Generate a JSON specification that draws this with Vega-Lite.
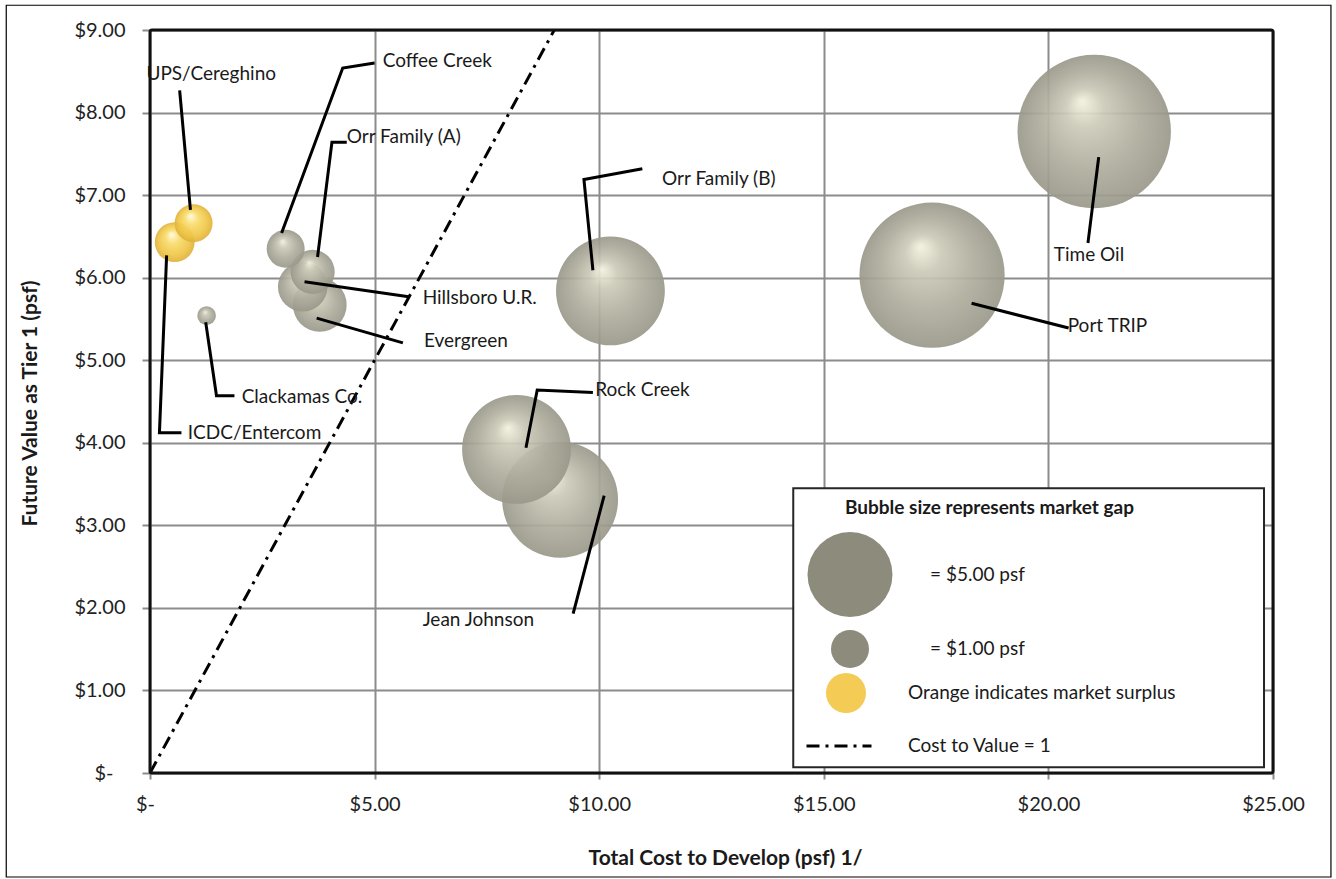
{
  "$schema": "https://vega.github.io/schema/vega-lite/v6.json",
  "width": 1123,
  "height": 743,
  "autosize": {"type": "none"},
  "padding": {"left": 150, "top": 30, "right": 63, "bottom": 106},
  "background": "white",
  "datasets": {
    "projects": [
      {"name": "Time Oil", "cost": 21.02, "value": 7.77, "gap": 16.3, "status": "gap"},
      {"name": "Port TRIP", "cost": 17.41, "value": 6.03, "gap": 14.6, "status": "gap"},
      {"name": "Jean Johnson", "cost": 9.13, "value": 3.31, "gap": 9.3, "status": "gap"},
      {"name": "Orr Family (B)", "cost": 10.25, "value": 5.84, "gap": 8.2, "status": "gap"},
      {"name": "Rock Creek", "cost": 8.16, "value": 3.92, "gap": 8.2, "status": "gap"},
      {"name": "Evergreen", "cost": 3.78, "value": 5.67, "gap": 2.0, "status": "gap"},
      {"name": "Hillsboro U.R.", "cost": 3.40, "value": 5.89, "gap": 1.7, "status": "gap"},
      {"name": "Orr Family (A)", "cost": 3.62, "value": 6.07, "gap": 1.35, "status": "gap"},
      {"name": "Coffee Creek", "cost": 3.02, "value": 6.35, "gap": 1.0, "status": "gap"},
      {"name": "Clackamas Co.", "cost": 1.26, "value": 5.54, "gap": 0.24, "status": "gap"},
      {"name": "ICDC/Entercom", "cost": 0.55, "value": 6.43, "gap": 1.1, "status": "surplus"},
      {"name": "UPS/Cereghino", "cost": 0.97, "value": 6.66, "gap": 1.0, "status": "surplus"}
    ],
    "parity": [
      {"series": "Cost to Value = 1", "cost": 0, "value": 0},
      {"series": "Cost to Value = 1", "cost": 9, "value": 9}
    ],
    "labels": [
      {"name": "UPS/Cereghino", "cost": -0.08, "value": 8.47},
      {"name": "ICDC/Entercom", "cost": 0.84, "value": 4.12},
      {"name": "Clackamas Co.", "cost": 2.04, "value": 4.55},
      {"name": "Coffee Creek", "cost": 5.18, "value": 8.62},
      {"name": "Orr Family (A)", "cost": 4.38, "value": 7.70},
      {"name": "Hillsboro U.R.", "cost": 6.07, "value": 5.75},
      {"name": "Evergreen", "cost": 6.10, "value": 5.23},
      {"name": "Orr Family (B)", "cost": 11.40, "value": 7.19},
      {"name": "Rock Creek", "cost": 9.91, "value": 4.64},
      {"name": "Jean Johnson", "cost": 6.07, "value": 1.85},
      {"name": "Port TRIP", "cost": 20.43, "value": 5.41},
      {"name": "Time Oil", "cost": 20.12, "value": 6.27}
    ],
    "leaders": [
      {"name": "UPS/Cereghino", "step": 1, "cost": 0.66, "value": 8.27},
      {"name": "UPS/Cereghino", "step": 2, "cost": 0.90, "value": 6.82},
      {"name": "ICDC/Entercom", "step": 1, "cost": 0.37, "value": 6.27},
      {"name": "ICDC/Entercom", "step": 2, "cost": 0.21, "value": 4.12},
      {"name": "ICDC/Entercom", "step": 3, "cost": 0.70, "value": 4.12},
      {"name": "Clackamas Co.", "step": 1, "cost": 1.24, "value": 5.46},
      {"name": "Clackamas Co.", "step": 2, "cost": 1.48, "value": 4.57},
      {"name": "Clackamas Co.", "step": 3, "cost": 1.88, "value": 4.57},
      {"name": "Coffee Creek", "step": 1, "cost": 2.93, "value": 6.54},
      {"name": "Coffee Creek", "step": 2, "cost": 4.29, "value": 8.54},
      {"name": "Coffee Creek", "step": 3, "cost": 5.00, "value": 8.60},
      {"name": "Orr Family (A)", "step": 1, "cost": 3.73, "value": 6.25},
      {"name": "Orr Family (A)", "step": 2, "cost": 4.05, "value": 7.64},
      {"name": "Orr Family (A)", "step": 3, "cost": 4.38, "value": 7.64},
      {"name": "Hillsboro U.R.", "step": 1, "cost": 3.44, "value": 5.95},
      {"name": "Hillsboro U.R.", "step": 2, "cost": 5.76, "value": 5.77},
      {"name": "Evergreen", "step": 1, "cost": 3.71, "value": 5.51},
      {"name": "Evergreen", "step": 2, "cost": 5.63, "value": 5.21},
      {"name": "Orr Family (B)", "step": 1, "cost": 9.86, "value": 6.09},
      {"name": "Orr Family (B)", "step": 2, "cost": 9.66, "value": 7.19},
      {"name": "Orr Family (B)", "step": 3, "cost": 10.96, "value": 7.32},
      {"name": "Rock Creek", "step": 1, "cost": 8.37, "value": 3.94},
      {"name": "Rock Creek", "step": 2, "cost": 8.62, "value": 4.64},
      {"name": "Rock Creek", "step": 3, "cost": 9.86, "value": 4.61},
      {"name": "Jean Johnson", "step": 1, "cost": 10.11, "value": 3.36},
      {"name": "Jean Johnson", "step": 2, "cost": 9.42, "value": 1.93},
      {"name": "Port TRIP", "step": 1, "cost": 18.29, "value": 5.69},
      {"name": "Port TRIP", "step": 2, "cost": 20.45, "value": 5.39},
      {"name": "Time Oil", "step": 1, "cost": 21.12, "value": 7.46},
      {"name": "Time Oil", "step": 2, "cost": 20.88, "value": 6.42}
    ]
  },
  "layer": [
    {
      "description": "Outer chart border",
      "data": {"values": [{}]},
      "mark": {"type": "rect", "filled": false, "stroke": "#000000", "strokeWidth": 1.2, "clip": false},
      "encoding": {
        "x": {"datum": -3.2, "type": "quantitative", "scale": {"domain": [0, 25], "nice": false}},
        "x2": {"datum": 26.29},
        "y": {"datum": 9.3, "type": "quantitative", "scale": {"domain": [0, 9], "nice": false}},
        "y2": {"datum": -1.26}
      }
    },
    {
      "description": "Legend panel",
      "data": {"values": [{}]},
      "mark": {"type": "rect", "fill": "#ffffff", "stroke": "#262626", "strokeWidth": 2},
      "encoding": {
        "x": {"datum": 14.32, "type": "quantitative", "scale": {"domain": [0, 25], "nice": false}},
        "x2": {"datum": 24.8},
        "y": {"datum": 3.45, "type": "quantitative", "scale": {"domain": [0, 9], "nice": false}},
        "y2": {"datum": 0.07}
      }
    },
    {
      "description": "Cost to value parity line",
      "data": {"name": "parity"},
      "mark": {"type": "line", "stroke": "#000000", "strokeWidth": 3, "strokeCap": "butt"},
      "encoding": {
        "x": {"field": "cost", "type": "quantitative", "scale": {"domain": [0, 25], "nice": false}},
        "y": {"field": "value", "type": "quantitative", "scale": {"domain": [0, 9], "nice": false}},
        "strokeDash": {
          "field": "series", "type": "nominal",
          "scale": {"range": [[13, 6, 3, 6]]},
          "legend": {
            "orient": "none", "legendX": 655, "legendY": 682, "title": null, "padding": 0,
            "symbolType": "stroke", "symbolSize": 4225, "symbolStrokeWidth": 3, "symbolStrokeColor": "#000000",
            "labelFont": "Lato", "labelFontSize": 19, "labelColor": "#1a1a1a", "labelOffset": 35, "labelLimit": 400
          }
        }
      }
    },
    {
      "description": "Projects with a market gap: shaded bubbles, flat legend swatches",
      "data": {"name": "projects"},
      "transform": [{"filter": "datum.status === 'gap'"}],
      "mark": {"type": "point", "shape": "circle", "filled": true, "opacity": 1, "fillOpacity": 0.92, "strokeWidth": 0},
      "encoding": {
        "x": {
          "field": "cost", "type": "quantitative", "scale": {"domain": [0, 25], "nice": false},
          "axis": {
            "values": [0, 5, 10, 15, 20, 25],
            "labelExpr": "datum.value == 0 ? '$-' : '$' + format(datum.value, '.2f')",
            "labelOffset": {"condition": {"test": "datum.value == 0", "value": -5}, "value": 0},
            "labelFlush": false, "labelFont": "Lato", "labelFontSize": 20, "labelColor": "#222222", "labelPadding": 15,
            "tickSize": 6, "tickColor": "#8a8a8a", "tickWidth": 2, "domain": false,
            "grid": true, "gridColor": "#8c8c8c", "gridWidth": 2,
            "title": "Total Cost to Develop (psf) 1/", "titleFont": "Lato", "titleFontSize": 21, "titleFontWeight": "bold",
            "titleColor": "#1a1a1a", "titleX": 575, "titleY": 85, "titleBaseline": "middle", "titleAlign": "center"
          }
        },
        "y": {
          "field": "value", "type": "quantitative", "scale": {"domain": [0, 9], "nice": false},
          "axis": {
            "values": [0, 1, 2, 3, 4, 5, 6, 7, 8, 9],
            "labelExpr": "datum.value == 0 ? '$-' : '$' + format(datum.value, '.2f')",
            "labelPadding": {"condition": {"test": "datum.value == 0", "value": 29}, "value": 17},
            "labelFont": "Lato", "labelFontSize": 20, "labelColor": "#222222",
            "tickSize": 8, "tickColor": "#8a8a8a", "tickWidth": 2, "domain": false,
            "grid": true, "gridColor": "#8c8c8c", "gridWidth": 2,
            "title": "Future Value as Tier 1 (psf)", "titleFont": "Lato", "titleFontSize": 21, "titleFontWeight": "bold",
            "titleColor": "#1a1a1a", "titleX": -120, "titleY": 373, "titleAngle": 270, "titleBaseline": "middle", "titleAlign": "center"
          }
        },
        "fill": {
          "condition": {
            "test": "isValid(datum.status)",
            "value": {
              "gradient": "radial", "x1": 0.42, "y1": 0.3, "r1": 0, "x2": 0.5, "y2": 0.5, "r2": 0.5,
              "stops": [
                {"offset": 0, "color": "#f3f1df"},
                {"offset": 0.25, "color": "#cccab8"},
                {"offset": 0.65, "color": "#adac9c"},
                {"offset": 1, "color": "#99988a"}
              ]
            }
          },
          "value": "#8c8b7c"
        },
        "size": {
          "field": "gap", "type": "quantitative",
          "scale": {"type": "linear", "domain": [0, 20], "range": [0, 28880]},
          "legend": {
            "orient": "none", "legendX": 695, "legendY": 469, "padding": 0,
            "values": [5, 1],
            "title": "Bubble size represents market gap",
            "titleFont": "Lato", "titleFontSize": 19, "titleFontWeight": "bold", "titleColor": "#1a1a1a",
            "titlePadding": 14, "titleLimit": 500,
            "labelExpr": "'= $' + format(datum.value, '.2f') + ' psf'",
            "labelFont": "Lato", "labelFontSize": 19, "labelColor": "#1a1a1a", "labelLimit": 400,
            "symbolOffset": -37.5, "labelOffset": 37.5, "rowPadding": 13, "symbolStrokeWidth": 0, "symbolOpacity": 1
          }
        },
        "order": {"field": "gap", "sort": "descending"}
      }
    },
    {
      "description": "Projects with a market surplus",
      "data": {"name": "projects"},
      "transform": [{"filter": "datum.status === 'surplus'"}],
      "mark": {"type": "point", "filled": true, "opacity": 1, "fillOpacity": 0.92, "strokeWidth": 0},
      "encoding": {
        "x": {"field": "cost", "type": "quantitative", "scale": {"domain": [0, 25], "nice": false}},
        "y": {"field": "value", "type": "quantitative", "scale": {"domain": [0, 9], "nice": false}},
        "fill": {
          "condition": {
            "test": "isValid(datum.status)",
            "value": {
              "gradient": "radial", "x1": 0.42, "y1": 0.3, "r1": 0, "x2": 0.5, "y2": 0.5, "r2": 0.5,
              "stops": [
                {"offset": 0, "color": "#fffbe0"},
                {"offset": 0.35, "color": "#f8dc6c"},
                {"offset": 0.75, "color": "#efc647"},
                {"offset": 1, "color": "#dfb13a"}
              ]
            }
          },
          "value": "#f4cb55"
        },
        "size": {"field": "gap", "type": "quantitative", "scale": {"type": "linear", "domain": [0, 20], "range": [0, 28880]}},
        "shape": {
          "field": "status", "type": "nominal",
          "scale": {"domain": ["surplus"], "range": ["circle"]},
          "legend": {
            "orient": "none", "legendX": 676, "legendY": 643, "title": null, "padding": 0,
            "symbolSize": 1600, "symbolStrokeWidth": 0, "symbolOpacity": 1,
            "labelExpr": "'Orange indicates market surplus'",
            "labelFont": "Lato", "labelFontSize": 19, "labelColor": "#1a1a1a", "labelOffset": 42, "labelLimit": 400
          }
        },
        "order": {"field": "gap", "sort": "descending"}
      }
    },
    {
      "description": "Leader lines from each bubble to its name",
      "data": {"name": "leaders"},
      "mark": {"type": "line", "stroke": "#000000", "strokeWidth": 3, "strokeCap": "butt", "strokeJoin": "miter"},
      "encoding": {
        "x": {"field": "cost", "type": "quantitative", "scale": {"domain": [0, 25], "nice": false}},
        "y": {"field": "value", "type": "quantitative", "scale": {"domain": [0, 9], "nice": false}},
        "detail": {"field": "name", "type": "nominal"},
        "order": {"field": "step", "type": "quantitative"}
      }
    },
    {
      "description": "Project names",
      "data": {"name": "labels"},
      "mark": {"type": "text", "align": "left", "baseline": "middle", "font": "Lato", "fontSize": 19, "color": "#1a1a1a"},
      "encoding": {
        "x": {"field": "cost", "type": "quantitative", "scale": {"domain": [0, 25], "nice": false}},
        "y": {"field": "value", "type": "quantitative", "scale": {"domain": [0, 9], "nice": false}},
        "text": {"field": "name", "type": "nominal"}
      }
    },
    {
      "description": "Plot area border, drawn over the grid",
      "data": {"values": [{}]},
      "mark": {"type": "rect", "filled": false, "stroke": "#111111", "strokeWidth": 3, "cornerRadius": 2},
      "encoding": {
        "x": {"datum": 0, "type": "quantitative", "scale": {"domain": [0, 25], "nice": false}},
        "x2": {"datum": 25},
        "y": {"datum": 9, "type": "quantitative", "scale": {"domain": [0, 9], "nice": false}},
        "y2": {"datum": 0}
      }
    }
  ],
  "config": {
    "font": "Lato",
    "view": {"stroke": null}
  }
}
